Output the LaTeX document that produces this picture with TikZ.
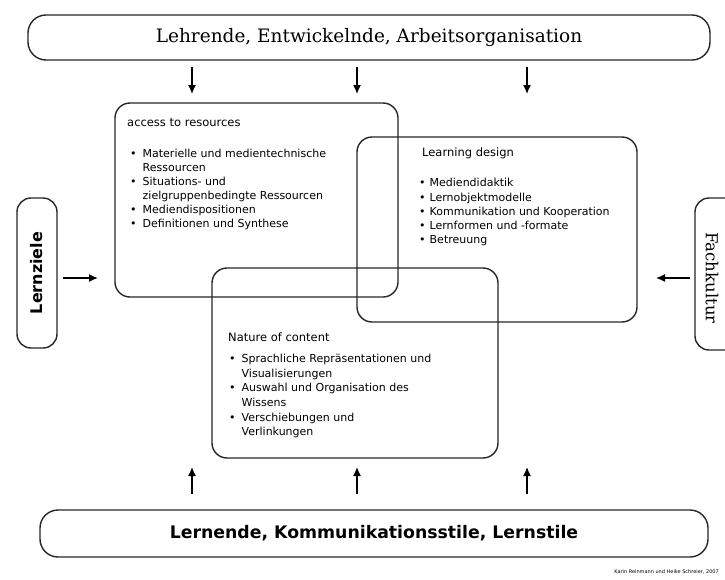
\documentclass[tikz,border=0pt]{standalone}
\usepackage{fontspec}
\setmainfont{DejaVu Sans}
\newfontfamily\slabfont{DejaVu Serif}
\usetikzlibrary{arrows.meta}
\tikzset{
  outerbox/.style={draw=black!85, line width=1.4pt, rounded corners=18pt, inner sep=0pt},
  sidebox/.style={draw=black!85, line width=1.4pt, rounded corners=14pt, inner sep=0pt},
  areabox/.style={draw=black!85, line width=1.4pt, rounded corners=15pt, inner sep=0pt},
  boxtitle/.style={anchor=base west, inner sep=0pt, font=\fontsize{11.5}{14}\selectfont},
  boxlist/.style={anchor=north west, inner sep=0pt, align=left},
  flow/.style={-{Latex[length=9pt,width=8pt]}, line width=1.4pt, black}
}
\newcommand{\itm}{\textbullet}
\begin{document}
\begin{tikzpicture}[x=1pt,y=-1pt]
\useasboundingbox (0,0) rectangle (725,579);
\clip (0,0) rectangle (725,579);

% top and bottom bars
\node[outerbox, minimum width=682pt, minimum height=45pt,
      font=\slabfont\fontsize{18.5}{21}\selectfont] (top) at (369,37.5)
      {Lehrende, Entwickelnde, Arbeitsorganisation};
\node[outerbox, minimum width=668pt, minimum height=47pt,
      font=\bfseries\fontsize{17.3}{20}\selectfont] (bottom) at (374,533.5)
      {Lernende, Kommunikationsstile, Lernstile};

% side boxes
\node[sidebox, minimum width=40pt, minimum height=150pt] (left) at (37,273) {};
\node[rotate=90, font=\bfseries\fontsize{16}{18}\selectfont] (lefttext) at (left.center) {Lernziele};
\node[sidebox, minimum width=44pt, minimum height=152pt] (right) at (717,274) {};
\node[rotate=-90, font=\slabfont\fontsize{16.5}{18}\selectfont] (righttext) at (712,278) {Fachkultur};

% three overlapping areas
\node[areabox, minimum width=283pt, minimum height=194pt] (access) at (256.5,200) {};
\node[areabox, minimum width=280pt, minimum height=185pt] (design) at (497,229.5) {};
\node[areabox, minimum width=286pt, minimum height=190pt] (nature) at (355,363) {};

% texts of area 1
\node[boxtitle] (t1) at (127,126) {access to resources};
\node[boxlist, font=\fontsize{11}{14}\selectfont] (l1) at (130,147.5) {%
\begin{tabular}{@{}l@{\hspace{6pt}}l@{}}
\itm & Materielle und medientechnische\\
     & Ressourcen\\
\itm & Situations- und\\
     & zielgruppenbedingte Ressourcen\\
\itm & Mediendispositionen\\
\itm & Definitionen und Synthese
\end{tabular}};

% texts of area 2
\node[boxtitle] (t2) at (422,156) {Learning design};
\node[boxlist, font=\fontsize{11}{14.3}\selectfont] (l2) at (419,176.5) {%
\begin{tabular}{@{}l@{\hspace{4pt}}l@{}}
\itm & Mediendidaktik\\
\itm & Lernobjektmodelle\\
\itm & Kommunikation und Kooperation\\
\itm & Lernformen und -formate\\
\itm & Betreuung
\end{tabular}};

% texts of area 3
\node[boxtitle] (t3) at (228,341) {Nature of content};
\node[boxlist, font=\fontsize{11}{14.7}\selectfont] (l3) at (229,352) {%
\begin{tabular}{@{}l@{\hspace{6pt}}l@{}}
\itm & Sprachliche Repräsentationen und\\
     & Visualisierungen\\
\itm & Auswahl und Organisation des\\
     & Wissens\\
\itm & Verschiebungen und\\
     & Verlinkungen
\end{tabular}};

% arrow end points
\coordinate (a1s) at (192,67);  \coordinate (a1e) at (192,94);
\coordinate (a2s) at (357,67);  \coordinate (a2e) at (357,94);
\coordinate (a3s) at (527,67);  \coordinate (a3e) at (527,94);
\coordinate (b1s) at (192,494); \coordinate (b1e) at (192,467);
\coordinate (b2s) at (357,494); \coordinate (b2e) at (357,467);
\coordinate (b3s) at (527,494); \coordinate (b3e) at (527,467);
\coordinate (ls) at (63,278);   \coordinate (le) at (98,278);
\coordinate (rs) at (690,278);  \coordinate (re) at (656,278);

\draw[flow] (a1s) -- (a1e);
\draw[flow] (a2s) -- (a2e);
\draw[flow] (a3s) -- (a3e);
\draw[flow] (b1s) -- (b1e);
\draw[flow] (b2s) -- (b2e);
\draw[flow] (b3s) -- (b3e);
\draw[flow] (ls) -- (le);
\draw[flow] (rs) -- (re);

% credit
\node[anchor=base east, inner sep=0pt, font=\fontsize{5}{6}\selectfont] (credit) at (719,573)
  {Karin Reinmann und Heike Schreier, 2007};
\end{tikzpicture}
\end{document}
